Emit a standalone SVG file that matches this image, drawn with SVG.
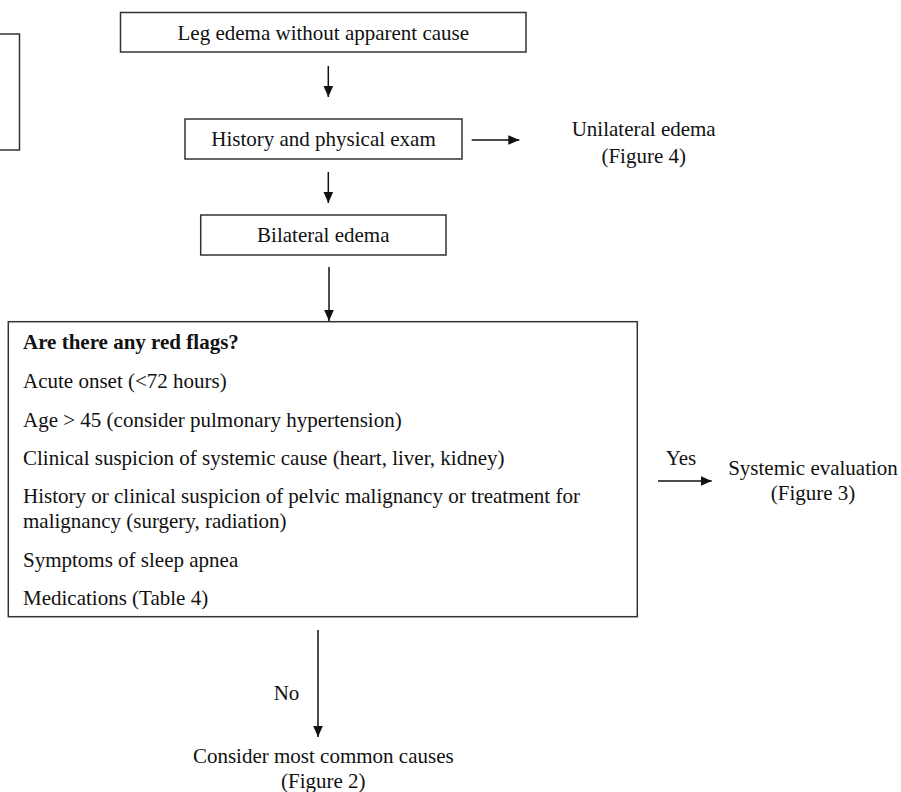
<svg xmlns="http://www.w3.org/2000/svg" width="901" height="792" viewBox="0 0 901 792">
<style>
.box{fill:#fff;stroke:#333;stroke-width:1.5}
.t{font-family:"Liberation Serif","Times New Roman",serif;font-size:21px;fill:#111}
.c{text-anchor:middle}
.b{font-weight:bold}
.ln{stroke:#111;stroke-width:1.5;fill:none}
</style>
<defs>
<marker id="ah" markerUnits="userSpaceOnUse" markerWidth="12" markerHeight="12" viewBox="0 0 12 12" refX="11" refY="6" orient="auto">
<path d="M0,1.2 L11,6 L0,10.8 Z" fill="#111"/>
</marker>
</defs>
<rect width="901" height="792" fill="#fff"/>
<g id="partial-box"><rect class="box" x="-10" y="34" width="29.5" height="116"/></g>
<g id="n1"><rect class="box" x="120.5" y="12.5" width="405.5" height="39.5"/><text class="t c" x="323.3" y="40">Leg edema without apparent cause</text></g>
<g id="n2"><rect class="box" x="185" y="119" width="277" height="40"/><text class="t c" x="323.5" y="146">History and physical exam</text></g>
<g id="n3"><rect class="box" x="200.7" y="215" width="245.3" height="40"/><text class="t c" x="323.3" y="242">Bilateral edema</text></g>
<g id="unilateral"><text class="t c" x="643.7" y="136">Unilateral edema</text><text class="t c" x="643.7" y="163">(Figure 4)</text></g>
<g id="redflags"><rect class="box" x="8.3" y="321.7" width="629" height="295"/>
<text class="t b" x="23" y="349">Are there any red flags?</text>
<text class="t" x="23" y="388">Acute onset (&lt;72 hours)</text>
<text class="t" x="23" y="427">Age &gt; 45 (consider pulmonary hypertension)</text>
<text class="t" x="23" y="465">Clinical suspicion of systemic cause (heart, liver, kidney)</text>
<text class="t" x="23" y="503">History or clinical suspicion of pelvic malignancy or treatment for</text>
<text class="t" x="23" y="528">malignancy (surgery, radiation)</text>
<text class="t" x="23" y="567">Symptoms of sleep apnea</text>
<text class="t" x="23" y="605">Medications (Table 4)</text>
</g>
<g id="systemic"><text class="t c" x="813" y="475">Systemic evaluation</text><text class="t c" x="813" y="500">(Figure 3)</text></g>
<g id="common"><text class="t c" x="323.3" y="763">Consider most common causes</text><text class="t c" x="323.3" y="788">(Figure 2)</text></g>
<g id="connectors">
<line class="ln" x1="328.3" y1="66" x2="328.3" y2="97" marker-end="url(#ah)"/>
<line class="ln" x1="471.7" y1="140" x2="519.3" y2="140" marker-end="url(#ah)"/>
<line class="ln" x1="328.3" y1="172" x2="328.3" y2="203" marker-end="url(#ah)"/>
<line class="ln" x1="329" y1="267" x2="329" y2="321" marker-end="url(#ah)"/>
<line class="ln" x1="658" y1="481" x2="711.7" y2="481" marker-end="url(#ah)"/>
<line class="ln" x1="318" y1="630" x2="318" y2="737" marker-end="url(#ah)"/>
<text class="t c" x="681" y="465">Yes</text>
<text class="t c" x="286.5" y="700">No</text>
</g>
</svg>
